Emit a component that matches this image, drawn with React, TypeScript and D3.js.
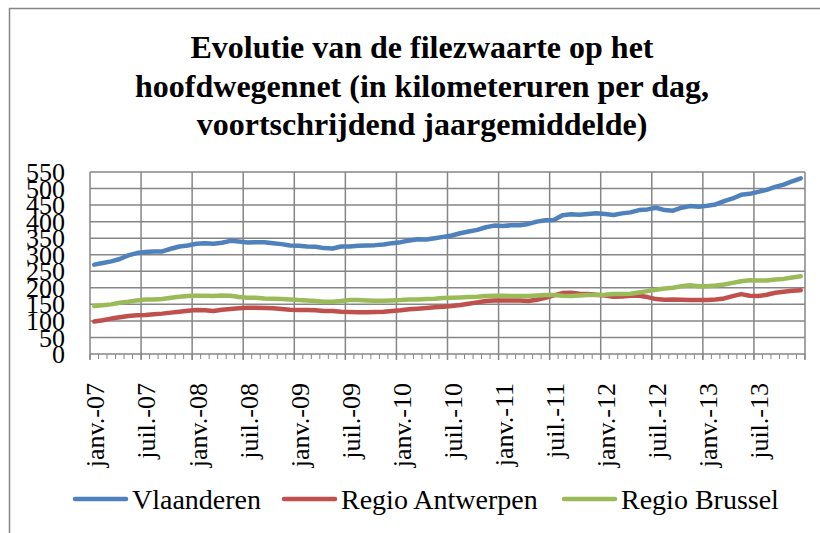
import { useEffect, useRef } from 'react';
import * as d3 from 'd3';

const titleLines = [
  'Evolutie van de filezwaarte op het',
  'hoofdwegennet (in kilometeruren per dag,',
  'voortschrijdend jaargemiddelde)',
];

// one value per month, jan 2007 .. dec 2013
const vlaanderen = [
  270, 275, 280, 287, 298, 305, 308, 310, 310, 318, 325, 328,
  333, 335, 333, 336, 342, 340, 337, 338, 338, 335, 332, 328,
  327, 325, 324, 320, 319, 325, 325, 327, 328, 329, 331, 335,
  338, 343, 347, 346, 350, 354, 358, 365, 370, 375, 383, 388,
  387, 389, 389, 393, 400, 404, 405, 419, 422, 421, 423, 425,
  423, 420, 425, 428, 435, 437, 442, 435, 433, 442, 447, 445,
  448, 452, 462, 470, 481, 484, 490, 496, 505, 512, 522, 531,
];
const antwerpen = [
  98, 102, 107, 111, 115, 117, 118, 120, 122, 125, 128, 131,
  133, 132, 130, 134, 136, 138, 140, 140, 139, 138, 136, 134,
  133, 133, 132, 130, 130, 128, 127, 126, 126, 127, 128, 130,
  132, 135, 137, 139, 141, 143, 145, 148, 152, 156, 160, 162,
  162, 162, 162, 160, 164, 170, 177, 184, 185, 182, 181, 179,
  177, 173, 174, 176, 176, 172, 166, 164, 165, 164, 163, 163,
  163, 165, 168, 175, 181, 176, 175, 179, 185, 188, 191, 193,
];
const brussel = [
  145, 147, 150, 155, 158, 162, 165, 165, 166, 170, 173, 175,
  176, 176, 175, 177, 176, 172, 170, 170, 168, 167, 166, 165,
  163, 162, 160, 158, 158, 160, 163, 163, 162, 161, 161, 162,
  163, 165, 165, 166, 167, 169, 170, 171, 172, 173, 175, 176,
  176, 175, 175, 175, 177, 178, 178, 176, 175, 177, 178, 178,
  179, 181, 181, 182, 186, 190, 194, 198, 200, 205, 208, 205,
  205, 207, 210, 215, 220, 223, 222, 222, 225, 227, 231, 235,
];

const seriesNames = ['Vlaanderen', 'Regio Antwerpen', 'Regio Brussel'];
const seriesColors = ['#4F81BD', '#C0504D', '#9BBB59'];
const monthLabels = [
  'janv.-07', 'juil.-07', 'janv.-08', 'juil.-08', 'janv.-09', 'juil.-09', 'janv.-10',
  'juil.-10', 'janv.-11', 'juil.-11', 'janv.-12', 'juil.-12', 'janv.-13', 'juil.-13',
];
const yTicks = d3.range(0, 551, 50);

const App = () => {
  const ref = useRef<SVGSVGElement>(null);

  useEffect(() => {
    const svg = d3.select(ref.current);
    svg.selectAll('*').remove();
    const serif = 'Liberation Serif, DejaVu Serif, serif';
    const grid = '#868686';

    // frame
    svg.append('rect')
      .attr('x', 9.5).attr('y', 8.5)
      .attr('width', 830).attr('height', 540)
      .attr('fill', 'none').attr('stroke', grid).attr('stroke-width', 1.5);

    // title
    svg.append('text')
      .attr('text-anchor', 'middle')
      .attr('font-family', serif).attr('font-weight', 'bold').attr('font-size', 32)
      .selectAll('tspan').data(titleLines).enter().append('tspan')
      .attr('x', 422)
      .attr('y', (d, i) => 58 + i * 38.5)
      .text(d => d);

    const n = vlaanderen.length;
    const x = d3.scaleLinear().domain([0, n]).range([90, 805]);
    const y = d3.scaleLinear().domain([0, 550]).range([354, 172]);

    const g = svg.append('g');

    // horizontal gridlines
    g.selectAll('line.h').data(yTicks).enter().append('line')
      .attr('x1', x(0)).attr('x2', x(n))
      .attr('y1', d => y(d)).attr('y2', d => y(d))
      .attr('stroke', grid).attr('stroke-width', 1.5);

    // vertical gridlines every 6 months
    const majors = d3.range(0, n + 1, 6);
    g.selectAll('line.v').data(majors).enter().append('line')
      .attr('x1', d => x(d)).attr('x2', d => x(d))
      .attr('y1', y(550)).attr('y2', y(0) + 6)
      .attr('stroke', grid).attr('stroke-width', 1.5);

    // minor ticks every month
    g.selectAll('line.m').data(d3.range(0, n + 1)).enter().append('line')
      .attr('x1', d => x(d)).attr('x2', d => x(d))
      .attr('y1', y(0)).attr('y2', y(0) + 5)
      .attr('stroke', grid).attr('stroke-width', 1);

    // y labels
    g.selectAll('text.y').data(yTicks).enter().append('text')
      .attr('x', 65).attr('y', d => y(d))
      .attr('dy', '0.35em')
      .attr('text-anchor', 'end')
      .attr('font-family', serif).attr('font-size', 26)
      .text(d => d);

    // x labels
    g.selectAll('text.x').data(monthLabels).enter().append('text')
      .attr('transform', (d, i) => `translate(${x(i * 6 + 0.5) + 1},383) rotate(-90)`)
      .attr('dy', '0.35em')
      .attr('text-anchor', 'end')
      .attr('font-family', serif).attr('font-size', 26)
      .text(d => d);

    // lines
    const line = d3.line<number>()
      .x((d, i) => x(i + 0.5))
      .y(d => y(d));
    [vlaanderen, antwerpen, brussel].forEach((s, k) => {
      g.append('path')
        .datum(s)
        .attr('d', line)
        .attr('fill', 'none')
        .attr('stroke', seriesColors[k])
        .attr('stroke-width', 4.5)
        .attr('stroke-linejoin', 'round')
        .attr('stroke-linecap', 'round');
    });

    // legend
    const legendX = [75, 284, 564];
    const lg = svg.append('g');
    seriesNames.forEach((name, k) => {
      lg.append('line')
        .attr('x1', legendX[k]).attr('x2', legendX[k] + 51)
        .attr('y1', 499).attr('y2', 499)
        .attr('stroke', seriesColors[k]).attr('stroke-width', 4.5)
        .attr('stroke-linecap', 'round');
      lg.append('text')
        .attr('x', legendX[k] + 57).attr('y', 509)
        .attr('font-family', serif).attr('font-size', 28)
        .text(name);
    });
  }, []);

  return (
    <div style={{ position: 'fixed', left: 0, top: 0 }}>
      <svg ref={ref} width={820} height={533} style={{ display: 'block', background: '#fff' }} />
    </div>
  );
};

export default App;
